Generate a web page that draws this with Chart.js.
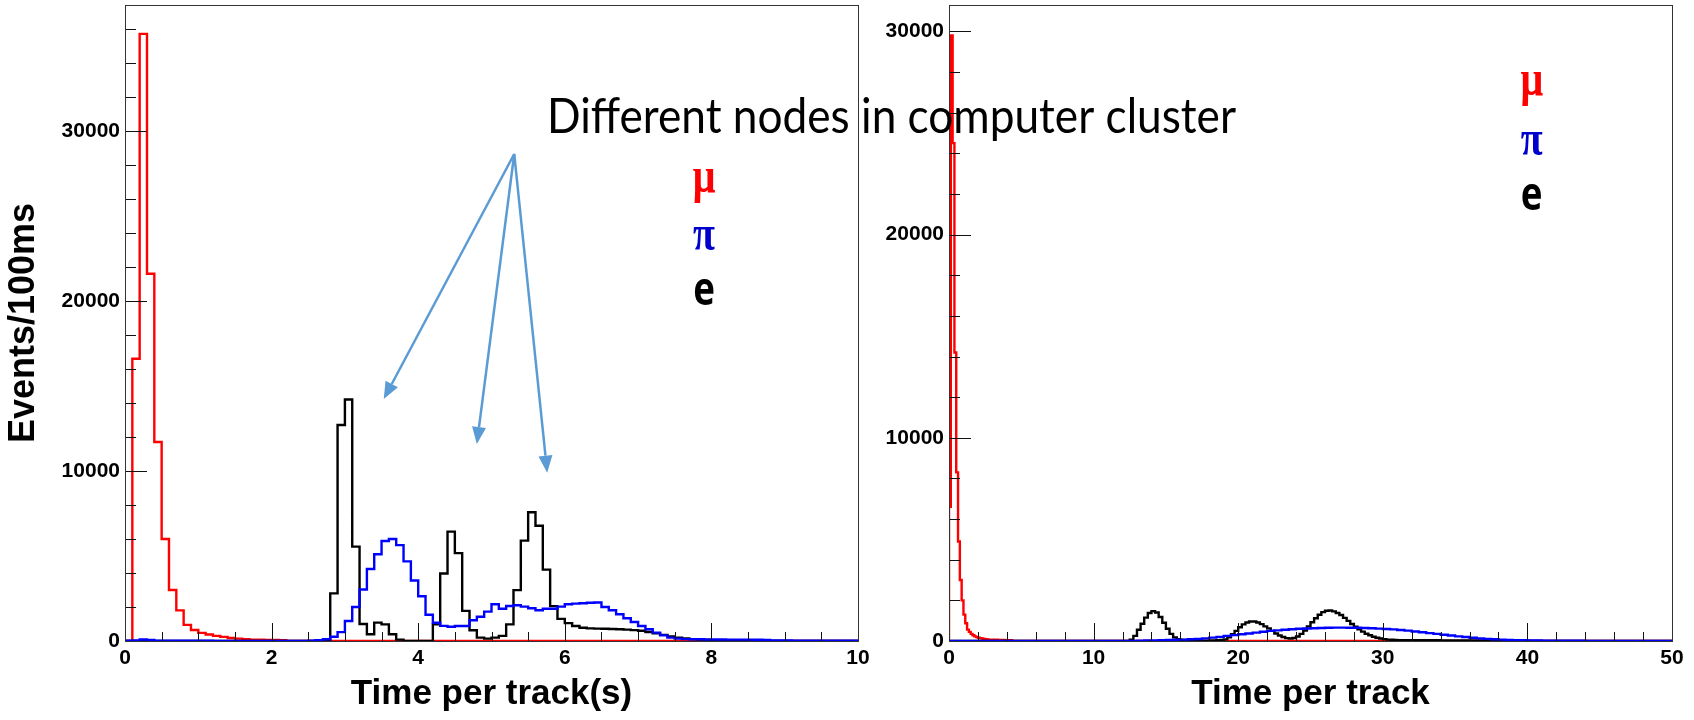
<!DOCTYPE html>
<html>
<head>
<meta charset="utf-8">
<script src="https://cdn.jsdelivr.net/npm/chart.js@4.4.1/dist/chart.umd.min.js"></script>
<style>
  html, body { margin: 0; padding: 0; background: #fff; }
  #wrap { position: relative; width: 1694px; height: 720px; overflow: hidden; }
  canvas { position: absolute; left: 0; top: 0; }
</style>
</head>
<body>
<div id="wrap">
  <canvas id="leftChart" width="1694" height="720"></canvas>
  <canvas id="rightChart" width="1694" height="720"></canvas>
</div>
<script>
// left panel: time per track in 100 ms bins (0 - 10 s)
const leftBinWidth = 0.1;
const leftMuStart = 0;
const leftMu = [0, 16600, 35700, 21600, 11700, 6000, 3000, 1800, 950, 650,
  480, 380, 300, 240, 180, 140, 100, 80, 70, 60,
  60, 50, 0, 0, 0, 0, 40, 30, 10];
const leftPiStart = 0;
const leftPi = [20, 30, 90, 60, 20,
  20, 20, 15, 15, 15, 15, 15, 10, 10, 10, 10, 10, 10, 10, 10, 10, 10, 10, 10, 10, 20, 40,
  100, 250, 520, 1180, 2000, 3030, 4230, 5100, 5880, 6000,
  5640, 4680, 3560, 2630, 1540, 1070, 890, 840, 880, 880,
  1220, 1430, 1730, 2160, 1900, 2060, 2100, 2020, 1930, 1810,
  1900, 1900, 2020, 2160, 2200, 2220, 2250, 2260, 2000, 1810,
  1570, 1340, 1120, 880, 690, 490, 330, 200, 140, 110,
  100, 100, 90, 90, 90, 80, 80, 80, 70, 70, 60, 30,
  30, 30, 20, 20, 20, 20, 20, 20, 20, 20, 20];
const leftEStart = 2.8;
const leftE = [2800, 12700, 14200, 5550, 1000, 400, 1080, 980, 400, 80,
  0, 0, 0, 0, 980, 3970, 6430, 5170, 1770, 630,
  200, 140, 200, 300, 980, 2990, 5900, 7570, 6780, 4200,
  2050, 1300, 1050, 880, 780, 740, 730, 720, 710, 690,
  670, 640, 600, 530, 450, 360, 270, 200, 150, 110,
  80, 60, 40, 40, 30, 30, 20, 20, 20, 20];
const leftXTicks = [0, 2, 4, 6, 8, 10];
const leftYTicks = [0, 10000, 20000, 30000];

// right panel: time per track, wider range (0 - 50)
const rightMuStart = 0;
const rightMuWidth = 0.125;
const rightMu = [6600, 29800, 24500, 14200, 8300, 4900, 3000, 2000, 1300, 870,
  560, 450, 350, 280, 230, 190, 160, 140, 120, 100,
  90, 80, 70, 70, 60, 60, 60, 50, 50, 50, 50, 40, 40, 40, 40];
const rightEStart = 12.5;
const rightEWidth = 0.25;
const rightE = [60, 250, 550, 850, 1150, 1380, 1470, 1400, 1180, 900,
  600, 350, 180, 90, 50,
  30, 30, 20, 20, 20, 20, 20, 30, 30, 40, 50,
  80, 180, 330, 500, 680, 820, 910, 960, 960, 910,
  830, 720, 620, 500, 370, 270, 200, 140, 120, 150,
  220, 350, 520, 720, 920, 1120, 1290, 1420, 1490, 1500,
  1460, 1380, 1280, 1140, 990, 840, 700, 570, 460, 360,
  280, 210, 160, 120, 90, 70, 60, 50,
  45, 45, 40, 40, 40, 40, 40, 40, 35, 35, 35, 35, 30, 30,
  30, 30, 30, 30, 30, 30, 25, 25, 25, 25, 20, 20, 20, 20];
const rightPiStart = 13;
const rightPiWidth = 0.5;
const rightPi = [20, 30, 30, 40, 50, 60, 70, 85, 100, 130,
  165, 205, 250, 290, 330, 370, 410, 455, 500, 525,
  550, 575, 600, 615, 630, 640, 655, 660, 660, 655,
  650, 640, 625, 610, 590, 570, 540, 510, 470, 430,
  390, 350, 310, 270, 230, 195, 160, 130, 105, 85,
  70, 55, 45, 35, 30, 25, 20, 20, 15, 15, 10, 10];
const rightXTicks = [0, 10, 20, 30, 40, 50];
const rightYTicks = [0, 10000, 20000, 30000];

// histogram outline: one point per bin low edge, stepped through the x scale
function histPoints(start, width, values, min, max) {
  const pts = [{x: min, y: 0}];
  values.forEach((v, i) => pts.push({x: start + i * width, y: v}));
  pts.push({x: start + values.length * width, y: 0});
  pts.push({x: max, y: 0});
  return pts;
}

const rootFont = (size) => ({family: '"Liberation Sans", Arial, sans-serif', weight: 'bold', size: size});

// ROOT style frame with ticks pointing inwards
const rootFrame = {
  id: 'rootFrame',
  afterDatasetsDraw(chart, args, opts) {
    const {ctx, chartArea: a, scales: {x, y}} = chart;
    ctx.save();
    ctx.strokeStyle = '#111';
    ctx.lineWidth = 1;
    ctx.beginPath();
    const nx = Math.round((x.max - x.min) / opts.xMinor);
    for (let i = 0; i <= nx; i++) {
      const v = x.min + i * opts.xMinor;
      const px = Math.round(x.getPixelForValue(v)) + 0.5;
      const len = (i % opts.xSub === 0) ? opts.xTick : opts.xTick / 2;
      ctx.moveTo(px, a.bottom);
      ctx.lineTo(px, a.bottom - len);
    }
    const ny = Math.floor((y.max - y.min) / opts.yMinor);
    for (let i = 0; i <= ny; i++) {
      const v = y.min + i * opts.yMinor;
      const py = Math.round(y.getPixelForValue(v)) + 0.5;
      const len = (i % opts.ySub === 0) ? opts.yTick : opts.yTick / 2;
      ctx.moveTo(a.left, py);
      ctx.lineTo(a.left + len, py);
    }
    ctx.stroke();
    ctx.strokeStyle = '#333';
    ctx.strokeRect(Math.round(a.left) + 0.5, Math.round(a.top) + 0.5,
      Math.round(a.right - a.left), Math.round(a.bottom - a.top));
    ctx.restore();
  }
};

function squeezedText(ctx, text, px, py, font, color, sx, align) {
  ctx.save();
  ctx.font = font;
  ctx.fillStyle = color;
  ctx.textAlign = align;
  ctx.textBaseline = 'alphabetic';
  ctx.translate(px, py);
  ctx.scale(sx, 1);
  ctx.fillText(text, 0, 0);
  ctx.restore();
}

function drawArrow(ctx, x0, y0, x1, y1) {
  const ang = Math.atan2(y1 - y0, x1 - x0);
  const head = 17, half = 7;
  const bx = x1 - head * Math.cos(ang), by = y1 - head * Math.sin(ang);
  ctx.beginPath();
  ctx.moveTo(x0, y0);
  ctx.lineTo(bx, by);
  ctx.stroke();
  ctx.beginPath();
  ctx.moveTo(x1, y1);
  ctx.lineTo(bx + half * Math.sin(ang), by - half * Math.cos(ang));
  ctx.lineTo(bx - half * Math.sin(ang), by + half * Math.cos(ang));
  ctx.closePath();
  ctx.fill();
}

// particle labels (mu, pi, e), arrows and the slide caption
const slideNotes = {
  id: 'slideNotes',
  afterDraw(chart, args, opts) {
    const {ctx, scales: {x, y}} = chart;
    (opts.labels || []).forEach(l => {
      squeezedText(ctx, l.text, x.getPixelForValue(l.x), y.getPixelForValue(l.y),
        l.font, l.color, 0.8, 'center');
    });
    if (opts.arrows) {
      ctx.save();
      ctx.strokeStyle = '#5b9bd5';
      ctx.fillStyle = '#5b9bd5';
      ctx.lineWidth = 2.5;
      const tx = x.getPixelForValue(opts.arrows.fromX), ty = y.getPixelForValue(opts.arrows.fromY);
      opts.arrows.toX.forEach((v, i) => {
        drawArrow(ctx, tx, ty, x.getPixelForValue(v), y.getPixelForValue(opts.arrows.toY[i]));
      });
      ctx.restore();
    }
    if (opts.caption) {
      const font = '48px Lato';
      ctx.save();
      ctx.font = font;
      const w = ctx.measureText(opts.caption).width;
      ctx.restore();
      squeezedText(ctx, opts.caption, 547, 133, font, '#000', 689 / w, 'left');
    }
  }
};

const muFont = 'bold 50px "Liberation Serif"';
const eFont = 'bold 46px "Open Sans"';

function makeChart(id, cfg) {
  return new Chart(document.getElementById(id), {
    type: 'line',
    data: {
      datasets: [
        {label: 'mu', data: cfg.mu, borderColor: '#ff0000', order: 2},
        {label: 'pi', data: cfg.pi, borderColor: '#0000ff', order: 0},
        {label: 'e', data: cfg.e, borderColor: '#000000', order: 1}
      ].map(d => Object.assign(d, {stepped: true, borderWidth: 2.4, pointRadius: 0, fill: false, tension: 0}))
    },
    options: {
      responsive: false,
      animation: false,
      events: [],
      layout: {padding: cfg.padding},
      scales: {
        x: {
          type: 'linear', min: cfg.xMin, max: cfg.xMax,
          afterBuildTicks: s => { s.ticks = cfg.xTicks.map(v => ({value: v})); },
          afterFit: s => { s.height = 79; s.paddingLeft = 0; s.paddingRight = 0; },
          grid: {display: false, drawTicks: false}, border: {display: false},
          ticks: {font: rootFont(21), color: '#000', padding: 5, maxRotation: 0, autoSkip: false,
            callback: v => String(v)},
          title: {display: true, text: cfg.xTitle, font: rootFont(35), color: '#000',
            padding: {top: 0, bottom: 5}}
        },
        y: {
          type: 'linear', min: 0, max: cfg.yMax,
          afterBuildTicks: s => { s.ticks = cfg.yTicks.map(v => ({value: v})); },
          afterFit: s => { s.width = cfg.yWidth; s.paddingTop = 0; s.paddingBottom = 0; },
          grid: {display: false, drawTicks: false}, border: {display: false},
          ticks: {font: rootFont(21), color: '#000', padding: 5, autoSkip: false,
            callback: v => String(v)},
          title: {display: !!cfg.yTitle, text: cfg.yTitle || '', font: rootFont(36), color: '#000',
            padding: {top: 2, bottom: 0}}
        }
      },
      plugins: {
        legend: {display: false},
        tooltip: {enabled: false},
        rootFrame: cfg.frame,
        slideNotes: cfg.notes
      }
    },
    plugins: [rootFrame, slideNotes]
  });
}

makeChart('leftChart', {
  mu: histPoints(leftMuStart, leftBinWidth, leftMu, 0, 10),
  pi: histPoints(leftPiStart, leftBinWidth, leftPi, 0, 10),
  e: histPoints(leftEStart, leftBinWidth, leftE, 0, 10),
  xMin: 0, xMax: 10, yMax: 37400,
  xTicks: leftXTicks, yTicks: leftYTicks,
  xTitle: 'Time per track(s)', yTitle: 'Events/100ms',
  yWidth: 125,
  padding: {left: 0, top: 5, right: 836, bottom: 0},
  frame: {xMinor: 0.5, xSub: 4, xTick: 18, yMinor: 2000, ySub: 5, yTick: 22},
  notes: {
    labels: [
      {text: 'μ', x: 7.9, y: 26400, font: muFont, color: '#ff0000'},
      {text: 'π', x: 7.9, y: 23000, font: muFont, color: '#0000cc'},
      {text: 'e', x: 7.9, y: 19750, font: eFont, color: '#000000'}
    ],
    arrows: {fromX: 5.31, fromY: 28640, toX: [3.53, 4.8, 5.76], toY: [14230, 11590, 9900]}
  }
});

makeChart('rightChart', {
  mu: histPoints(rightMuStart, rightMuWidth, rightMu, 0, 50),
  pi: histPoints(rightPiStart, rightPiWidth, rightPi, 0, 50),
  e: histPoints(rightEStart, rightEWidth, rightE, 0, 50),
  xMin: 0, xMax: 50, yMax: 31300,
  xTicks: rightXTicks, yTicks: rightYTicks,
  xTitle: 'Time per track',
  yWidth: 949,
  padding: {left: 0, top: 5, right: 22, bottom: 0},
  frame: {xMinor: 2, xSub: 5, xTick: 18, yMinor: 2000, ySub: 5, yTick: 22},
  notes: {
    labels: [
      {text: 'μ', x: 40.3, y: 26870, font: muFont, color: '#ff0000'},
      {text: 'π', x: 40.3, y: 23900, font: muFont, color: '#0000cc'},
      {text: 'e', x: 40.3, y: 21200, font: eFont, color: '#000000'}
    ],
    caption: 'Different nodes in computer cluster'
  }
});
</script>
</body>
</html>
